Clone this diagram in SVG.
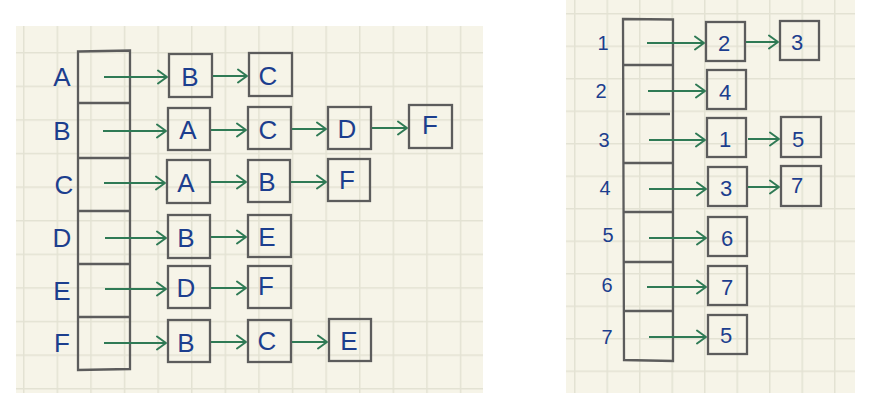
<svg xmlns="http://www.w3.org/2000/svg" width="890" height="410" viewBox="0 0 890 410">
<style>
.bg{fill:#f6f4e8}
.box{fill:none;stroke:#5c5c5c;stroke-width:2.3}
.t{font-family:"Liberation Sans",Arial,sans-serif;fill:#1c3e8e;text-anchor:middle;dominant-baseline:central}
.L{font-size:26px}
.R{font-size:20px}
.N{font-size:22px}
.e{stroke:#2f7a55;stroke-width:2;fill:none}
</style>
<defs>
<pattern id="gl" patternUnits="userSpaceOnUse" x="23" y="52" width="33.6" height="33.6">
<path d="M0.75 0V33.6M0 0.75H33.6" stroke="#e3e2d3" stroke-width="1.5" fill="none"/>
</pattern>
<pattern id="gr" patternUnits="userSpaceOnUse" x="574" y="13" width="32.5" height="32.5">
<path d="M0.75 0V32.5M0 0.75H32.5" stroke="#e3e2d3" stroke-width="1.5" fill="none"/>
</pattern>
<marker id="ah" markerUnits="userSpaceOnUse" markerWidth="14" markerHeight="16" refX="11" refY="8" orient="auto">
<path d="M2 1.5L11 8L2 14.5" stroke="#2f7a55" stroke-width="2" fill="none" stroke-linecap="round" stroke-linejoin="round"/>
</marker>
</defs>
<rect width="890" height="410" fill="#ffffff"/>
<rect x="16" y="26" width="467" height="367" class="bg"/>
<rect x="16" y="26" width="467" height="367" fill="url(#gl)"/>
<rect x="566" y="0" width="289" height="393" class="bg"/>
<rect x="566" y="0" width="289" height="393" fill="url(#gr)"/>

<g id="arrayL">
<path class="box" d="M78 51.5L130 50.5V369L78 370Z"/>
<path class="box" d="M78 103H130M78 158H130M78 211H130M78 264H130M78 317H130"/>
<text class="t L" x="62" y="77">A</text>
<text class="t L" x="62" y="131">B</text>
<text class="t L" x="64" y="185">C</text>
<text class="t L" x="62" y="238">D</text>
<text class="t L" x="62" y="291">E</text>
<text class="t L" x="62" y="343">F</text>
</g>

<g id="A1"><rect class="box" x="169" y="54" width="43" height="43"/><text class="t L" x="190" y="77">B</text></g>
<g id="A2"><rect class="box" x="249" y="53" width="43" height="43"/><text class="t L" x="268" y="76">C</text></g>
<g id="B1"><rect class="box" x="168" y="108" width="42" height="42"/><text class="t L" x="188" y="130">A</text></g>
<g id="B2"><rect class="box" x="248" y="107" width="43" height="42"/><text class="t L" x="268" y="130">C</text></g>
<g id="B3"><rect class="box" x="328" y="107" width="43" height="42"/><text class="t L" x="347" y="129">D</text></g>
<g id="B4"><rect class="box" x="409" y="105" width="43" height="43"/><text class="t L" x="430" y="125">F</text></g>
<g id="C1"><rect class="box" x="167" y="160" width="43" height="43"/><text class="t L" x="186" y="183">A</text></g>
<g id="C2"><rect class="box" x="248" y="160" width="42" height="42"/><text class="t L" x="267" y="182">B</text></g>
<g id="C3"><rect class="box" x="328" y="159" width="42" height="42"/><text class="t L" x="347" y="180">F</text></g>
<g id="D1"><rect class="box" x="168" y="215" width="42" height="43"/><text class="t L" x="186" y="238">B</text></g>
<g id="D2"><rect class="box" x="248" y="215" width="43" height="42"/><text class="t L" x="267" y="237">E</text></g>
<g id="E1"><rect class="box" x="168" y="266" width="42" height="42"/><text class="t L" x="186" y="288">D</text></g>
<g id="E2"><rect class="box" x="248" y="266" width="43" height="42"/><text class="t L" x="266" y="286">F</text></g>
<g id="F1"><rect class="box" x="168" y="320" width="42" height="42"/><text class="t L" x="186" y="343">B</text></g>
<g id="F2"><rect class="box" x="248" y="320" width="43" height="42"/><text class="t L" x="267" y="341">C</text></g>
<g id="F3"><rect class="box" x="329" y="319" width="42" height="42"/><text class="t L" x="349" y="341">E</text></g>

<g id="arrayR">
<path class="box" d="M623 19L673 19.5V361L624 360Z"/>
<path class="box" d="M624 65H672M626 114H670M624 163H672M624 212H672M624 262H672M624 311H672"/>
<text class="t R" x="603" y="43">1</text>
<text class="t R" x="601" y="91">2</text>
<text class="t R" x="604" y="140">3</text>
<text class="t R" x="605" y="188">4</text>
<text class="t R" x="608" y="235">5</text>
<text class="t R" x="607" y="285">6</text>
<text class="t R" x="607" y="337">7</text>
</g>

<g id="n1a"><rect class="box" x="706" y="22" width="39" height="39"/><text class="t N" x="724" y="43">2</text></g>
<g id="n1b"><rect class="box" x="780" y="21" width="39" height="39"/><text class="t N" x="797" y="42">3</text></g>
<g id="n2a"><rect class="box" x="707" y="70" width="39" height="39"/><text class="t N" x="725" y="92">4</text></g>
<g id="n3a"><rect class="box" x="707" y="118" width="39" height="39"/><text class="t N" x="725" y="139">1</text></g>
<g id="n3b"><rect class="box" x="781" y="117" width="40" height="40"/><text class="t N" x="798" y="139">5</text></g>
<g id="n4a"><rect class="box" x="708" y="167" width="39" height="39"/><text class="t N" x="726" y="188">3</text></g>
<g id="n4b"><rect class="box" x="781" y="166" width="40" height="40"/><text class="t N" x="797" y="185">7</text></g>
<g id="n5a"><rect class="box" x="708" y="217" width="39" height="39"/><text class="t N" x="727" y="238">6</text></g>
<g id="n6a"><rect class="box" x="708" y="266" width="39" height="39"/><text class="t N" x="727" y="287">7</text></g>
<g id="n7a"><rect class="box" x="708" y="315" width="39" height="39"/><text class="t N" x="726" y="335">5</text></g>

<g id="connectors">
<path class="e" marker-end="url(#ah)" d="M104 77H167"/>
<path class="e" marker-end="url(#ah)" d="M213 76H247"/>
<path class="e" marker-end="url(#ah)" d="M103 131H166"/>
<path class="e" marker-end="url(#ah)" d="M211 130H246"/>
<path class="e" marker-end="url(#ah)" d="M292 129H326"/>
<path class="e" marker-end="url(#ah)" d="M372 128H407"/>
<path class="e" marker-end="url(#ah)" d="M104 183H165"/>
<path class="e" marker-end="url(#ah)" d="M211 182H246"/>
<path class="e" marker-end="url(#ah)" d="M291 182H326"/>
<path class="e" marker-end="url(#ah)" d="M105 238H166"/>
<path class="e" marker-end="url(#ah)" d="M211 237H246"/>
<path class="e" marker-end="url(#ah)" d="M105 289H166"/>
<path class="e" marker-end="url(#ah)" d="M211 288H246"/>
<path class="e" marker-end="url(#ah)" d="M104 343H166"/>
<path class="e" marker-end="url(#ah)" d="M211 342H246"/>
<path class="e" marker-end="url(#ah)" d="M292 342H327"/>
<path class="e" marker-end="url(#ah)" d="M647 43H704"/>
<path class="e" marker-end="url(#ah)" d="M746 42H778"/>
<path class="e" marker-end="url(#ah)" d="M648 91H705"/>
<path class="e" marker-end="url(#ah)" d="M649 140H705"/>
<path class="e" marker-end="url(#ah)" d="M748 139H779"/>
<path class="e" marker-end="url(#ah)" d="M649 189H706"/>
<path class="e" marker-end="url(#ah)" d="M748 187H779"/>
<path class="e" marker-end="url(#ah)" d="M649 238H706"/>
<path class="e" marker-end="url(#ah)" d="M647 287H706"/>
<path class="e" marker-end="url(#ah)" d="M649 337H706"/>
</g>
</svg>
